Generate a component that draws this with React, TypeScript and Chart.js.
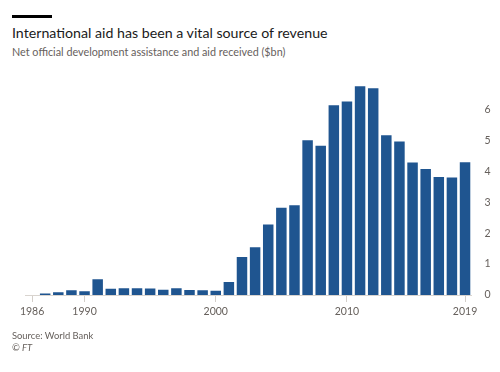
import React, { useEffect, useRef } from 'react';
import { Chart, registerables } from 'chart.js';

Chart.register(...registerables);

const years = [
  '1986', '1987', '1988', '1989', '1990', '1991', '1992', '1993', '1994', '1995',
  '1996', '1997', '1998', '1999', '2000', '2001', '2002', '2003', '2004', '2005',
  '2006', '2007', '2008', '2009', '2010', '2011', '2012', '2013', '2014', '2015',
  '2016', '2017', '2018', '2019',
];
const aidReceived = [
  0, 0.05, 0.09, 0.15, 0.12, 0.51, 0.2, 0.22, 0.22, 0.21,
  0.17, 0.22, 0.16, 0.15, 0.14, 0.42, 1.23, 1.54, 2.28, 2.82,
  2.9, 5.0, 4.82, 6.13, 6.25, 6.75, 6.68, 5.16, 4.96, 4.28,
  4.07, 3.81, 3.8, 4.29,
];
const labeledYears = ['1986', '1990', '2000', '2010', '2019'];
const yTickValues = [0, 1, 2, 3, 4, 5, 6];

const FONT = 'Lato, "Open Sans", sans-serif';
const GREY = '#66605c';

export default function App() {
  const ref = useRef<HTMLCanvasElement>(null);

  useEffect(() => {
    const chart = new Chart(ref.current!, {
      type: 'bar',
      data: {
        labels: years,
        datasets: [
          {
            data: aidReceived,
            backgroundColor: '#1f5590',
            barPercentage: 0.8,
            categoryPercentage: 1,
          },
        ],
      },
      options: {
        responsive: false,
        animation: false,
        layout: { padding: { top: 78.4, bottom: 52, left: 25.5, right: 0 } },
        plugins: { legend: { display: false }, tooltip: { enabled: false } },
        scales: {
          x: {
            offset: true,
            grid: {
              display: true,
              drawOnChartArea: false,
              offset: false,
              tickLength: 7,
              color: (ctx: any) =>
                labeledYears.includes(years[ctx.index]) ? '#d4cfca' : 'rgba(0,0,0,0)',
            },
            border: { display: true, color: '#d9d4cf' },
            ticks: {
              autoSkip: false,
              maxRotation: 0,
              padding: 3,
              color: GREY,
              font: { family: FONT, size: 10.5 },
              callback: (_v: any, i: number) =>
                labeledYears.includes(years[i]) ? years[i] : '',
            },
            afterFit: (s: any) => {
              s.height = 25;
            },
          },
          y: {
            position: 'right',
            min: 0,
            max: 7,
            grid: { display: false },
            border: { display: false },
            ticks: {
              stepSize: 1,
              padding: 5,
              color: GREY,
              font: { family: FONT, size: 10.5 },
              callback: (v: any) => (yTickValues.includes(v) ? String(v) : ''),
            },
            afterFit: (s: any) => {
              s.width = 28.4;
            },
          },
        },
      },
    } as any);
    return () => chart.destroy();
  }, []);

  return (
    <div
      style={{
        position: 'fixed',
        left: 0,
        top: 0,
        width: 500,
        height: 372,
        background: '#fff',
        fontFamily: FONT,
      }}
    >
      <div
        style={{
          position: 'absolute',
          left: 12,
          top: 15,
          width: 40,
          height: 3,
          background: '#000',
        }}
      />
      <div
        style={{
          position: 'absolute',
          left: 12,
          top: 24.5,
          fontSize: 14.2,
          lineHeight: '15px',
          color: '#1a1a1a',
          whiteSpace: 'nowrap',
        }}
      >
        International aid has been a vital source of revenue
      </div>
      <div
        style={{
          position: 'absolute',
          left: 12,
          top: 46.3,
          fontSize: 10.8,
          lineHeight: '12px',
          color: GREY,
          whiteSpace: 'nowrap',
        }}
      >
        Net official development assistance and aid received ($bn)
      </div>
      <canvas
        ref={ref}
        width={500}
        height={372}
        style={{ position: 'absolute', left: 0, top: 0, width: 500, height: 372 }}
      />
      <div
        style={{
          position: 'absolute',
          left: 12,
          top: 330.4,
          fontSize: 9.4,
          lineHeight: '12px',
          color: GREY,
          whiteSpace: 'nowrap',
        }}
      >
        Source: World Bank
      </div>
      <div
        style={{
          position: 'absolute',
          left: 12,
          top: 341.9,
          fontSize: 9.4,
          lineHeight: '12px',
          color: GREY,
          fontStyle: 'italic',
          whiteSpace: 'nowrap',
        }}
      >
        © FT
      </div>
    </div>
  );
}
